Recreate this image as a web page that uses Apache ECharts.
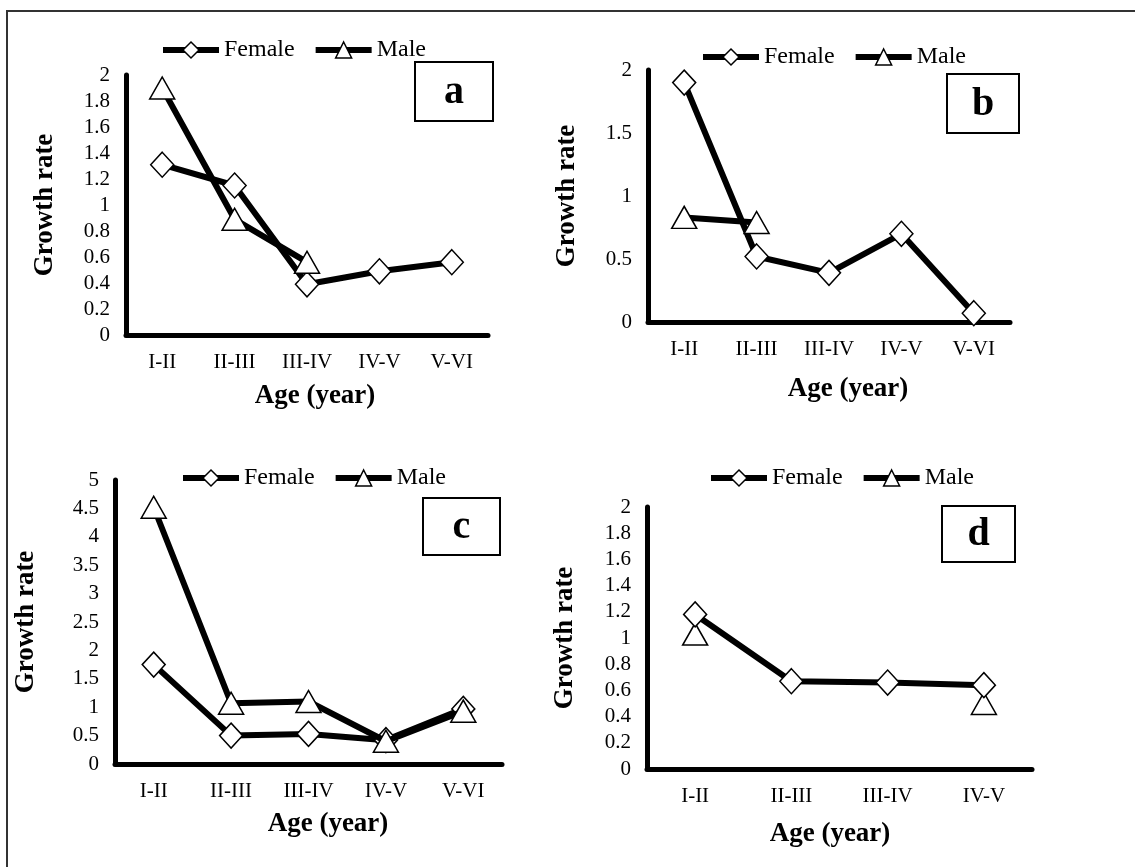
<!DOCTYPE html>
<html>
<head>
<meta charset="utf-8">
<script src="https://cdn.jsdelivr.net/npm/echarts@6/dist/echarts.min.js"></script>
<style>
html,body{margin:0;padding:0;background:#fff;}
#main{width:1135px;height:867px;}
</style>
</head>
<body>
<div id="main"></div>
<script>
// ---- data ----
var catsABC = ['I-II', 'II-III', 'III-IV', 'IV-V', 'V-VI'];
var catsD = ['I-II', 'II-III', 'III-IV', 'IV-V'];

var femaleA = [1.31, 1.15, 0.39, 0.49, 0.56];
var maleA = [1.90, 0.89, 0.56, null, null];

var femaleB = [1.90, 0.52, 0.39, 0.70, 0.07];
var maleB = [0.83, 0.79, null, null, null];

var femaleC = [1.75, 0.50, 0.53, 0.42, 0.97];
var maleC = [4.52, 1.07, 1.10, 0.40, 0.93];

var femaleD = [1.18, 0.67, 0.66, 0.64];
var maleD = [1.03, null, null, 0.50];

var yMaxA = 2, yStepA = 0.2;
var yMaxB = 2, yStepB = 0.5;
var yMaxC = 5, yStepC = 0.5;
var yMaxD = 2, yStepD = 0.2;

var panelLetters = ['a', 'b', 'c', 'd'];

// ---- styling ----
var SERIF = "'Liberation Serif', 'Times New Roman', serif";

var grids = [
  {left: 126, top: 75, width: 362, height: 260},
  {left: 648, top: 70, width: 362, height: 252},
  {left: 115, top: 480, width: 387, height: 284},
  {left: 647, top: 507, width: 385, height: 262}
];

var yNameGap = [67, 67, 75, 68];
var xNameGap = [48, 54, 47, 52];
var xNamePad = [[0,0,0,16], [0,0,0,38], [0,0,0,39], [0,19,0,0]];

function xAxis(i, cats) {
  return {
    type: 'category', gridIndex: i, data: cats, boundaryGap: true,
    axisLine: {lineStyle: {color: '#000', width: 5}},
    axisTick: {show: false},
    axisLabel: {color: '#000', fontFamily: SERIF, fontSize: 21, margin: 17},
    name: 'Age (year)', nameLocation: 'middle', nameGap: xNameGap[i],
    nameTextStyle: {color: '#000', fontFamily: SERIF, fontSize: 27, fontWeight: 'bold', padding: xNamePad[i]}
  };
}
function yAxis(i, max, step) {
  return {
    type: 'value', gridIndex: i, min: 0, max: max, interval: step,
    axisLine: {show: true, lineStyle: {color: '#000', width: 5}},
    axisTick: {show: false},
    splitLine: {show: false},
    axisLabel: {color: '#000', fontFamily: SERIF, fontSize: 21, margin: 16},
    name: 'Growth rate', nameLocation: 'middle', nameGap: yNameGap[i],
    nameTextStyle: {color: '#000', fontFamily: SERIF, fontSize: 27, fontWeight: 'bold'}
  };
}
function series(name, i, data, sym, z) {
  return {
    name: name, type: 'line', xAxisIndex: i, yAxisIndex: i, data: data,
    symbol: sym, symbolSize: sym === 'diamond' ? [23, 25] : [25, 22],
    connectNulls: false, z: z,
    lineStyle: {color: '#000', width: 6},
    itemStyle: {color: '#fff', borderColor: '#000', borderWidth: 1.5},
    emphasis: {disabled: true},
    animation: false
  };
}
function legend(left, top) {
  return {
    data: ['Female', 'Male'], left: left, top: top,
    itemWidth: 56, itemHeight: 20, itemGap: 18,
    textStyle: {color: '#000', fontFamily: SERIF, fontSize: 24},
    lineStyle: {color: '#000', width: 6},
    itemStyle: {color: '#fff', borderColor: '#000', borderWidth: 1.5},
    selectedMode: false
  };
}

var boxes = [
  {x: 415, y: 62, w: 78, h: 59},
  {x: 947, y: 74, w: 72, h: 59},
  {x: 423, y: 498, w: 77, h: 57},
  {x: 942, y: 506, w: 73, h: 56}
];
var graphics = [
  {type: 'line', shape: {x1: 6, y1: 11, x2: 1135, y2: 11}, style: {stroke: '#333', lineWidth: 2}},
  {type: 'line', shape: {x1: 7, y1: 11, x2: 7, y2: 867}, style: {stroke: '#333', lineWidth: 2}}
];
boxes.forEach(function (b, i) {
  graphics.push({type: 'rect', shape: {x: b.x, y: b.y, width: b.w, height: b.h},
    style: {fill: '#fff', stroke: '#000', lineWidth: 2}, z: 10});
  graphics.push({type: 'text', x: b.x + b.w / 2, y: b.y + b.h / 2 + 1, z: 11,
    style: {text: panelLetters[i], fill: '#000', font: 'bold 40px ' + SERIF,
      textAlign: 'center', textVerticalAlign: 'middle'}});
});

var option = {
  backgroundColor: '#fff',
  animation: false,
  grid: grids,
  xAxis: [xAxis(0, catsABC), xAxis(1, catsABC), xAxis(2, catsABC), xAxis(3, catsD)],
  yAxis: [yAxis(0, yMaxA, yStepA), yAxis(1, yMaxB, yStepB), yAxis(2, yMaxC, yStepC), yAxis(3, yMaxD, yStepD)],
  legend: [legend(155, 33), legend(695, 40), legend(175, 461), legend(703, 461)],
  graphic: graphics,
  series: [
    series('Female', 0, femaleA, 'diamond', 2),
    series('Male', 0, maleA, 'triangle', 3),
    series('Female', 1, femaleB, 'diamond', 2),
    series('Male', 1, maleB, 'triangle', 3),
    series('Female', 2, femaleC, 'diamond', 2),
    series('Male', 2, maleC, 'triangle', 3),
    series('Female', 3, femaleD, 'diamond', 3),
    series('Male', 3, maleD, 'triangle', 2)
  ]
};

var chart = echarts.init(document.getElementById('main'), null, {renderer: 'canvas'});
chart.setOption(option);
</script>
</body>
</html>
